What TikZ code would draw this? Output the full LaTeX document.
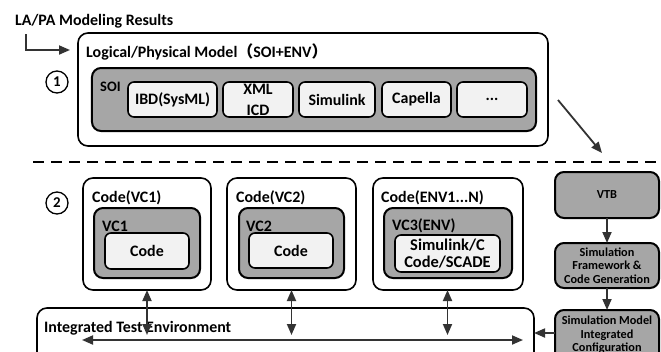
\documentclass[tikz,border=0pt]{standalone}
\usepackage{fontspec}
\setmainfont{Carlito}
\newfontfamily\cjkfont{Noto Sans CJK SC}
\usetikzlibrary{arrows.meta}
\definecolor{boxgray}{HTML}{A6A6A6}
\definecolor{boxlight}{HTML}{F2F2F2}
\definecolor{linegray}{HTML}{333333}
\tikzset{headtip/.tip={Triangle[length=11bp,width=9bp]}}
\newcommand{\lblsize}{\bfseries\fontsize{16}{18}\selectfont}
\begin{document}
\begin{tikzpicture}[x=1bp,y=-1bp,
  every node/.style={font=\lblsize},
  box/.style={inner sep=0pt, outer sep=0pt, minimum width=#1},
  outerbox/.style={draw=black, line width=1.6bp, rounded corners=10bp, fill=white},
  graybox/.style={draw=black, line width=2bp, rounded corners=9bp, fill=boxgray},
  lightbox/.style={draw=black, line width=1.6bp, rounded corners=6bp, fill=boxlight},
  lbl/.style={inner sep=0pt, anchor=west, font=\lblsize},
  small/.style={font=\bfseries\fontsize{12.3}{13.5}\selectfont, align=center},
  num/.style={draw=black, line width=1.3bp, circle, minimum size=22bp, inner sep=0pt,
    font=\bfseries\fontsize{15}{16}\selectfont},
  arr/.style={-headtip, line width=1.8bp, draw=linegray},
  darr/.style={headtip-headtip, line width=1.8bp, draw=linegray},
  sepline/.style={line width=1.8bp, dash pattern=on 11bp off 7bp},
]
\useasboundingbox (0,0) rectangle (661,351);
\clip (0,0) rectangle (661,351);

% ---------- part 1: logical / physical model ----------
\node[lbl] (la) at (15,21) {LA/PA Modeling Results};
\node[outerbox, box=470bp, minimum height=113bp] (m1) at (313,89.5) {};
\node[lbl] (m1t) at (86,52) {Logical/Physical Model{\cjkfont （}SOI+ENV{\cjkfont ）}};
\node[graybox, box=444bp, minimum height=63bp] (soi) at (314,99.5) {};
\node[lbl, font=\bfseries\fontsize{14.5}{16}\selectfont] (soit) at (100,87) {SOI};
\node[lightbox, box=89bp, minimum height=35bp] (ibd) at (172.5,99.5) {IBD(SysML)};
\node[lightbox, box=70bp, minimum height=35bp] (xml) at (258,99.5) {};
\node[inner sep=0pt] (xmlt) at (258,89) {XML};
\node[inner sep=0pt] (icdt) at (258,110) {ICD};
\node[lightbox, box=76bp, minimum height=35bp] (sim) at (337,99.5) {Simulink};
\node[lightbox, box=69bp, minimum height=35bp] (cap) at (416.5,99.5) {Capella};
\node[lightbox, box=70bp, minimum height=35bp] (dots) at (492,99.5) {...};
\node[num] (n1) at (57,82) {1};

\coordinate (laS) at (26,34);
\coordinate (laE) at (70,50);
\draw[arr] (laS) |- (laE);

\coordinate (dgS) at (558,100);
\coordinate (dgE) at (602,153);
\draw[arr] (dgS) -- (dgE);

% ---------- separator ----------
\coordinate (sepL) at (33,162);
\coordinate (sepR) at (661,162);
\draw[sepline] (sepL) -- (sepR);

% ---------- part 2: code and integration ----------
\node[num] (n2) at (57,203) {2};

\node[outerbox, box=128bp, minimum height=112bp] (c1) at (147,234) {};
\node[lbl] (c1t) at (92,198) {Code(VC1)};
\node[graybox, box=106bp, minimum height=70bp] (g1) at (147,243) {};
\node[lbl] (g1t) at (102,226) {VC1};
\node[lightbox, box=84bp, minimum height=36bp] (i1) at (147,251) {Code};

\node[outerbox, box=129bp, minimum height=112bp] (c2) at (291.5,234) {};
\node[lbl] (c2t) at (236,198) {Code(VC2)};
\node[graybox, box=105bp, minimum height=70bp] (g2) at (291.5,243) {};
\node[lbl] (g2t) at (246,226) {VC2};
\node[lightbox, box=84bp, minimum height=35bp] (i2) at (291,250.5) {Code};

\node[outerbox, box=150bp, minimum height=112bp] (c3) at (448,234) {};
\node[lbl] (c3t) at (381,198) {Code(ENV1...N)};
\node[graybox, box=128bp, minimum height=70bp] (g3) at (448,243) {};
\node[lbl] (g3t) at (392,226) {VC3(ENV)};
\node[lightbox, box=105bp, minimum height=37bp, align=center,
  font=\bfseries\fontsize{16.5}{17}\selectfont] (i3) at (447.5,253.5) {Simulink/C\\Code/SCADE};

\node[graybox, box=104bp, minimum height=46bp, small] (vtb) at (607,195) {VTB};
\node[graybox, box=104bp, minimum height=45bp, small] (fw) at (607,265.5)
  {Simulation\\Framework \&\\Code Generation};
\node[graybox, box=104bp, minimum height=62bp] (mdl) at (607,341) {};
\node[small, anchor=north, inner sep=0pt] (mdlt) at (607,316)
  {Simulation Model\\Integrated\\Configuration};

\node[outerbox, box=497bp, minimum height=72bp] (ite) at (285.5,344) {};
\node[lbl] (itet) at (44,328) {Integrated Test Environment};

\draw[arr] (vtb) -- (fw);
\draw[arr] (fw) -- (mdl);

\coordinate (feed) at (0,333);
\draw[arr] (mdl.west |- feed) -- (ite.east |- feed);

\coordinate (busY) at (0,335);
\draw[darr] (c1.south) -- (c1.south |- busY);
\draw[darr] (c2.south) -- (c2.south |- busY);
\draw[darr] (c3.south -| i3.center) -- (i3.center |- busY);

\coordinate (busL) at (82,340);
\coordinate (busR) at (523,340);
\draw[darr] (busL) -- (busR);
\end{tikzpicture}
\end{document}
